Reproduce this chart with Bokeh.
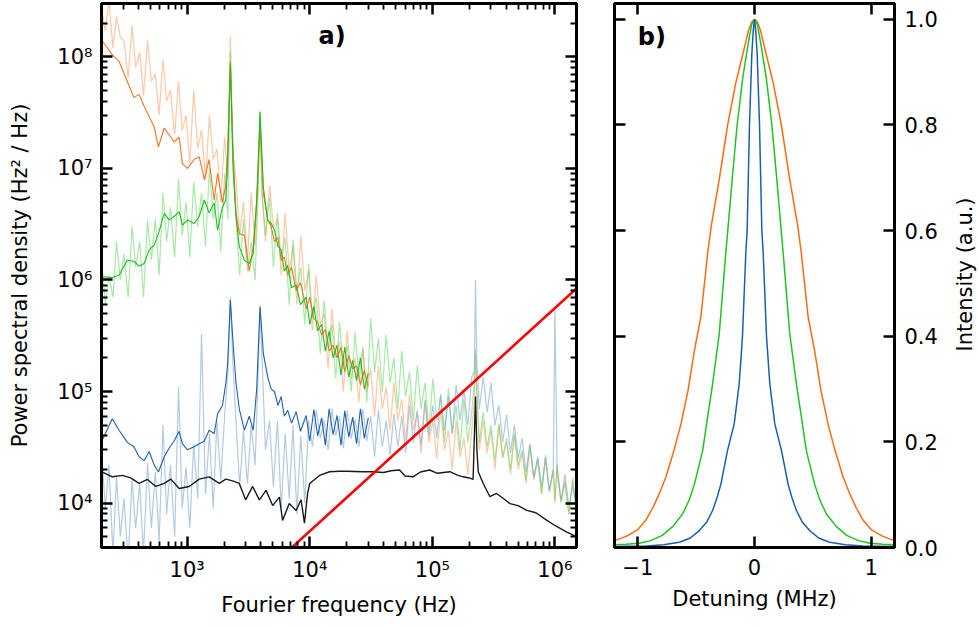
import math
from bokeh.plotting import figure
from bokeh.models import Range1d, FixedTicker, LogAxis, LinearAxis, Label
from bokeh.core.properties import value
from bokeh.layouts import row
from bokeh.embed import file_html
from bokeh.resources import INLINE

# ---------------- panel a data ----------------
freq_light = [
    200, 215, 230, 248, 265, 285, 305, 330, 355, 380,
    410, 440, 475, 510, 550, 590, 635, 680, 730, 790,
    850, 910, 980, 1050, 1130, 1220, 1310, 1410, 1520, 1630,
    1750, 1880, 2020, 2150, 2250, 2350, 2500, 2680, 2880, 3100,
    3330, 3580, 3800, 3930, 4080, 4350, 4700, 5050, 5450, 5850,
    6300, 6800, 7300, 7850, 8450, 9100, 9800, 10500, 11300, 12200,
    13100, 14100, 15200, 16300, 17500, 18800, 20200, 21800, 23400, 25200,
    27100, 29200, 31400, 33800, 36300, 39100, 42000, 45200, 48600, 52300,
    56300, 60500, 65100, 70000, 75300, 81000, 87200, 93800, 101000, 108600,
    116800, 125700, 135200, 145400, 156400, 168300, 181000, 194700, 209500, 220000,
    225000, 230000, 242000, 260000, 280000, 301000, 324000, 349000, 375000, 403000,
    434000, 467000, 502000, 540000, 581000, 625000, 673000, 724000, 779000, 838000,
    901000, 970000, 1000000, 1043000, 1122000, 1207000, 1299000, 1397000, 1500000,
]
psd_orange_light = [
    2.8e8, 1.7e8, 3.2e8, 1.2e8, 2.3e8, 1.5e8, 1.4e8, 6.5e7, 1.9e8, 8e7,
    1.1e8, 4.5e7, 1.4e8, 6e7, 7e7, 3e7, 9.5e7, 4e7, 5e7, 2e7,
    6e7, 2.2e7, 3e7, 1.1e7, 5e7, 1.5e7, 2.2e7, 8e6, 3e7, 1.2e7,
    1.5e7, 5e6, 1.9e7, 8e6, 1.5e8, 1.5e7, 8e6, 2.5e6, 5e6, 1.5e6,
    6e6, 2e6, 7e6, 3e7, 6e6, 2.2e6, 7e6, 3e6, 3.5e6, 1.1e6,
    4e6, 1.2e6, 2e6, 6e5, 2.5e6, 8e5, 1.2e6, 3.5e5, 1.1e6, 4e5,
    5e5, 1.6e5, 5.5e5, 2e5, 2.8e5, 1e5, 3.5e5, 1.3e5, 2e5, 8e4,
    2.4e5, 1e5, 1.6e5, 6e4, 1.7e5, 7e4, 1.1e5, 4.5e4, 1.2e5, 5.5e4,
    8.5e4, 3.5e4, 9.5e4, 4.5e4, 6.5e4, 2.8e4, 8e4, 3.5e4, 5.5e4, 2.5e4,
    7e4, 3e4, 4.5e4, 2e4, 5.5e4, 2.6e4, 3.8e4, 1.8e4, 4.5e4, 8e4,
    2.2e5, 1.2e5, 3e4, 5.5e4, 2.8e4, 4.5e4, 2e4, 5e4, 2.5e4, 3.5e4,
    1.8e4, 4e4, 2e4, 2.8e4, 1.5e4, 3.3e4, 1.6e4, 2.4e4, 1.2e4, 2.6e4,
    1.3e4, 2e4, 1e4, 2.2e4, 1.05e4, 1.6e4, 8e3, 1.7e4, 9e3,
]
psd_green_light = [
    1.6e6, 6e5, 1.1e6, 7e5, 2.2e6, 1e6, 1.7e6, 7e5, 3e6, 1.3e6,
    2.2e6, 7e5, 3.4e6, 1.5e6, 3.5e6, 1.1e6, 6e6, 2.2e6, 4.5e6, 1.6e6,
    8e6, 2.5e6, 5e6, 1.6e6, 7.5e6, 3e6, 6e6, 2e6, 1e7, 3.5e6,
    6e6, 1.8e6, 9e6, 3.5e6, 1.1e8, 1.2e7, 4e6, 1.1e6, 3.5e6, 1.2e6,
    2.2e6, 1e6, 7e6, 3.3e7, 6e6, 2.5e6, 5.5e6, 1.3e6, 4e6, 1.5e6,
    2.4e6, 6e5, 2.3e6, 8e5, 1.3e6, 4e5, 1.4e6, 4.5e5, 7e5, 2.2e5,
    6.5e5, 2.5e5, 4e5, 1.3e5, 4.2e5, 1.6e5, 2.6e5, 1e5, 3.4e5, 1.3e5,
    2.5e5, 8e4, 4.5e5, 1.5e5, 3e5, 1e5, 3.2e5, 1.2e5, 2e5, 7e4,
    2.3e5, 9e4, 1.5e5, 5.5e4, 1.7e5, 7e4, 1.2e5, 4.5e4, 1.3e5, 5.5e4,
    9e4, 3.5e4, 1.05e5, 4.2e4, 7.5e4, 3e4, 8.5e4, 3.5e4, 6.5e4, 1.2e5,
    2.4e5, 1e5, 3.5e4, 6.5e4, 3.2e4, 5e4, 2.4e4, 5.2e4, 2.6e4, 3.8e4,
    2e4, 4.2e4, 2.2e4, 3e4, 1.6e4, 3.3e4, 1.7e4, 2.5e4, 1.2e4, 2.7e4,
    1.3e4, 2e4, 1.05e4, 2.2e4, 1e4, 1.5e4, 8e3, 1.6e4, 8.5e3,
]
psd_blue_light = [
    3e4, 9e3, 2.2e4, 3.5e3, 1.7e4, 5e3, 1.1e4, 3e3, 1.6e4, 6e3,
    1.5e4, 3.5e3, 2.3e4, 6e3, 1.9e4, 4.5e3, 5e4, 8e3, 2.2e4, 5e3,
    1.1e5, 9e3, 2.1e4, 6e3, 3.4e4, 1.1e4, 3.3e5, 1.2e4, 4.2e4, 9e3,
    5.5e4, 1.6e4, 6e4, 1.5e5, 7e5, 2e5, 5.5e4, 1.4e4, 4.5e4, 1.5e4,
    5e4, 2.2e4, 1.5e5, 5.5e5, 2e5, 3e4, 5.5e4, 1.4e4, 5.5e4, 9e3,
    4.2e4, 1.1e4, 5e4, 8e3, 4e4, 1e4, 5.5e4, 3.2e4, 6.8e4, 3.8e4,
    5.5e4, 3e4, 7e4, 4e4, 6e4, 3.1e4, 6.8e4, 3.8e4, 5.6e4, 3.2e4,
    7e4, 3.6e4, 6e4, 2.6e4, 6.8e4, 3.2e4, 5.5e4, 2.7e4, 6.3e4, 3.2e4,
    6e4, 2.8e4, 7.5e4, 3.5e4, 6.8e4, 3.3e4, 8.5e4, 4e4, 7.5e4, 3.8e4,
    9.5e4, 4.5e4, 9e4, 4.2e4, 1.15e5, 5.5e4, 1.05e5, 5e4, 1.35e5, 1.5e5,
    1.0e6, 2e5, 7e4, 1.35e5, 6.5e4, 1.2e5, 5e4, 7.5e4, 3.5e4, 6.2e4,
    2.8e4, 5e4, 2.5e4, 3.8e4, 1.9e4, 3.4e4, 1.7e4, 2.6e4, 1.4e4, 2.5e4,
    1.25e4, 2e4, 5.4e5, 1.8e4, 1.05e4, 1.8e4, 9.5e3, 1.4e4, 9e3,
]

freq_dark = [
    200, 245, 278, 325, 368, 405, 445, 490, 537, 583,
    650, 712, 783, 860, 915, 1006, 1140, 1254, 1380, 1510,
    1660, 1770, 1940, 2070, 2140, 2250, 2380, 2500, 2660, 2930,
    3210, 3460, 3690, 3930, 4180, 4530, 4850, 5150, 5500, 5840,
    6200, 6600, 7100, 7750, 8400, 9350, 10000, 10800, 11600, 12500,
    13400, 14400, 15500, 16700, 18000, 19300, 20800, 22400, 24100, 25900,
    27900, 30000,
]
psd_orange_dark = [
    1.42e8, 1.04e8, 9.1e7, 6.0e7, 4.3e7, 4.6e7, 3.6e7, 2.9e7, 2.36e7, 1.56e7,
    2.3e7, 2.0e7, 1.73e7, 1.9e7, 1.1e7, 1.0e7, 1.2e7, 1.27e7, 7.9e6, 1.2e7,
    5.2e6, 9e6, 4.9e6, 7.3e6, 1.5e7, 9.1e7, 1.2e7, 4.0e6, 2.6e6, 2.5e6,
    1.2e6, 2.0e6, 5e6, 2.5e7, 6e6, 3.5e6, 3.0e6, 2.2e6, 2.4e6, 1.5e6,
    1.6e6, 1.1e6, 1.3e6, 8e5, 9.5e5, 5.5e5, 7e5, 4.5e5, 4.2e5, 3.2e5,
    3.6e5, 2.3e5, 2.6e5, 2e5, 2.5e5, 1.5e5, 2.1e5, 1.6e5, 1.7e5, 1.15e5,
    1.55e5, 1.1e5,
]
psd_green_dark = [
    1.07e6, 1.05e6, 1.1e6, 1.5e6, 1.47e6, 1.33e6, 1.4e6, 1.86e6, 2.05e6, 2.6e6,
    3.95e6, 3.45e6, 3.7e6, 4.1e6, 3.1e6, 3.45e6, 3.2e6, 3.7e6, 5.2e6, 4.0e6,
    4.9e6, 2.8e6, 4.5e6, 5.2e6, 1.2e7, 8.5e7, 9.1e6, 3.7e6, 2.0e6, 1.5e6,
    1.4e6, 1.73e6, 5.2e6, 3.2e7, 6.8e6, 3.45e6, 3.2e6, 2.8e6, 2.0e6, 1.86e6,
    1.2e6, 1.35e6, 8.5e5, 9e5, 6e5, 7e5, 4e5, 5.8e5, 3.5e5, 4e5,
    2.3e5, 3.5e5, 2e5, 2.6e5, 1.4e5, 2.5e5, 1.35e5, 1.9e5, 1.25e5, 2e5,
    1.05e5, 1.45e5,
]
psd_blue_dark = [
    3.55e4, 5.7e4, 4.5e4, 3.5e4, 3.2e4, 2.6e4, 2.4e4, 2.9e4, 2.2e4, 1.9e4,
    2.6e4, 3.1e4, 3.6e4, 4.4e4, 3.4e4, 3.0e4, 3.2e4, 3.4e4, 3.6e4, 4.5e4,
    4.2e4, 6.3e4, 7.5e4, 1.2e5, 1.8e5, 6.6e5, 2.5e5, 1.2e5, 7e4, 4.5e4,
    6e4, 4.5e4, 1.05e5, 5.8e5, 2.2e5, 1.36e5, 1.05e5, 1.0e5, 7.5e4, 9e4,
    6e4, 6.8e4, 5.2e4, 6.6e4, 4.4e4, 6.1e4, 3.6e4, 6.9e4, 4e4, 5.8e4,
    3.3e4, 7e4, 4.1e4, 6.1e4, 3.3e4, 6.7e4, 3.9e4, 5.9e4, 3.4e4, 7e4,
    3.8e4, 5.8e4,
]

freq_black = [
    200, 245, 296, 346, 405, 474, 555, 649, 736, 860,
    1038, 1254, 1513, 1827, 2070, 2350, 2660, 3000, 3420, 3880,
    4400, 4980, 5650, 6000, 6800, 7750, 8500, 9050, 9600, 10000,
    12000, 14500, 17500, 20000, 27000, 32700, 40000, 46000, 54000, 60000,
    69500, 80000, 95000, 110000, 139000, 160000, 178000, 200000, 215000, 225000,
    231000, 237000, 260000, 295000, 334000, 380000, 430000, 500000, 590000, 700000,
    860000, 1000000, 1250000, 1500000,
]
psd_black = [
    1.91e4, 1.72e4, 1.77e4, 1.68e4, 1.5e4, 1.63e4, 1.41e4, 1.5e4, 1.64e4, 1.35e4,
    1.41e4, 1.64e4, 1.72e4, 1.5e4, 1.64e4, 1.58e4, 1.5e4, 1.07e4, 1.41e4, 1.07e4,
    1.3e4, 9.5e3, 1.13e4, 7.0e3, 9.9e3, 8.6e3, 1.07e4, 6.6e3, 1.22e4, 1.5e4,
    1.77e4, 1.91e4, 1.93e4, 1.93e4, 1.91e4, 1.91e4, 1.88e4, 1.95e4, 1.98e4, 1.75e4,
    1.72e4, 1.9e4, 1.98e4, 1.85e4, 1.91e4, 1.78e4, 1.72e4, 1.68e4, 1.63e4, 9e4,
    3e4, 1.91e4, 1.5e4, 1.14e4, 1.22e4, 1.1e4, 9.9e3, 9.5e3, 8.6e3, 8.2e3,
    7.0e3, 6.3e3, 5.5e3, 5.0e3,
]

freq_red = [200, 1.5e6]
psd_red = [1.12e2, 8.4e5]

xticks_a = [1e3, 1e4, 1e5, 1e6]
xtick_labels_a = ["10³", "10⁴", "10⁵", "10⁶"]
yticks_a = [1e4, 1e5, 1e6, 1e7, 1e8]
ytick_labels_a = ["10⁴", "10⁵", "10⁶", "10⁷", "10⁸"]

# ---------------- panel b data ----------------
det_orange = [-1.2, -1.1, -1.0, -0.93, -0.87, -0.82, -0.76, -0.69, -0.63, -0.57,
              -0.515, -0.46, -0.40, -0.37, -0.30, -0.23, -0.16, -0.10, -0.05, -0.025,
              0.0,
              0.025, 0.05, 0.10, 0.16, 0.23, 0.30, 0.37, 0.40, 0.46, 0.515,
              0.57, 0.63, 0.69, 0.76, 0.82, 0.87, 0.93, 1.0, 1.1, 1.2]
int_orange = [0.013, 0.021, 0.034, 0.052, 0.076, 0.10, 0.133, 0.184, 0.234, 0.297,
              0.373, 0.436, 0.56, 0.61, 0.70, 0.80, 0.88, 0.934, 0.98, 0.995,
              1.0,
              0.995, 0.98, 0.934, 0.88, 0.80, 0.70, 0.61, 0.56, 0.436, 0.373,
              0.297, 0.234, 0.184, 0.133, 0.10, 0.076, 0.052, 0.034, 0.021, 0.013]
det_green = [-1.2, -1.1, -0.99, -0.89, -0.79, -0.70, -0.615, -0.56, -0.515, -0.444,
             -0.402, -0.359, -0.302, -0.245, -0.229, -0.19, -0.149, -0.10, -0.057, -0.025,
             0.0,
             0.025, 0.057, 0.10, 0.149, 0.19, 0.229, 0.245, 0.302, 0.359, 0.402,
             0.444, 0.515, 0.56, 0.615, 0.70, 0.79, 0.89, 0.99, 1.1, 1.2]
int_green = [0.005, 0.006, 0.008, 0.013, 0.023, 0.04, 0.064, 0.09, 0.12, 0.184,
             0.247, 0.31, 0.405, 0.56, 0.60, 0.70, 0.80, 0.89, 0.95, 0.99,
             1.0,
             0.99, 0.95, 0.89, 0.80, 0.70, 0.60, 0.56, 0.405, 0.31, 0.247,
             0.184, 0.12, 0.09, 0.064, 0.04, 0.023, 0.013, 0.008, 0.006, 0.005]
det_blue = [-1.2, -1.07, -0.93, -0.78, -0.644, -0.55, -0.473, -0.41, -0.359, -0.32,
            -0.288, -0.231, -0.174, -0.131, -0.103, -0.074, -0.063, -0.043, -0.023, -0.01,
            0.0,
            0.01, 0.023, 0.043, 0.063, 0.074, 0.103, 0.131, 0.174, 0.231, 0.288,
            0.32, 0.359, 0.41, 0.473, 0.55, 0.644, 0.78, 0.93, 1.07, 1.2]
int_blue = [0.002, 0.0025, 0.003, 0.005, 0.01, 0.018, 0.032, 0.048, 0.07, 0.095,
            0.12, 0.184, 0.234, 0.31, 0.40, 0.56, 0.60, 0.80, 0.934, 0.98,
            1.0,
            0.98, 0.934, 0.80, 0.60, 0.56, 0.40, 0.31, 0.234, 0.184, 0.12,
            0.095, 0.07, 0.048, 0.032, 0.018, 0.01, 0.005, 0.003, 0.0025, 0.002]

xticks_b = [-1, 0, 1]
xtick_labels_b = ["−1", "0", "1"]
yticks_b = [0.0, 0.2, 0.4, 0.6, 0.8, 1.0]
ytick_labels_b = ["0.0", "0.2", "0.4", "0.6", "0.8", "1.0"]

FONT = "DejaVu Sans"
ORANGE = "#ff6a10"
GREEN = "#1fc41f"
BLUE = "#1a5fad"
FS = "21px"


def style_axis(ax, labels=True, minor=True):
    ax.axis_line_width = 3
    ax.axis_line_color = "black"
    ax.major_tick_in = 11
    ax.major_tick_out = 0
    ax.major_tick_line_width = 2.5
    ax.major_tick_line_color = "black"
    if minor:
        ax.minor_tick_in = 6
        ax.minor_tick_out = 0
        ax.minor_tick_line_width = 1.8
        ax.minor_tick_line_color = "black"
    else:
        ax.minor_tick_line_color = None
    ax.major_label_text_font = FONT
    if labels:
        ax.major_label_text_font_size = FS
        ax.major_label_text_color = "black"
    else:
        ax.major_label_text_font_size = "1px"
        ax.major_label_text_color = None
        ax.major_label_standoff = 0
    ax.axis_label_text_font = FONT
    ax.axis_label_text_font_size = FS
    ax.axis_label_text_font_style = "normal"
    ax.axis_label_text_color = "black"


def minor_log(lo, hi):
    return [m * 10 ** e for e in range(lo, hi) for m in range(2, 10)]


# ---------------- panel a ----------------
p1 = figure(frame_width=475, frame_height=544,
            x_axis_type="log", y_axis_type="log",
            x_range=Range1d(200, 1.5e6), y_range=Range1d(4e3, 3e8),
            output_backend="svg", toolbar_location=None,
            min_border_left=101, min_border_right=18,
            min_border_top=3, min_border_bottom=70)
p1.grid.visible = False
p1.outline_line_color = "black"
p1.outline_line_width = 3

p1.xaxis.ticker = FixedTicker(ticks=xticks_a, minor_ticks=minor_log(2, 7))
p1.yaxis.ticker = FixedTicker(ticks=yticks_a, minor_ticks=minor_log(3, 9))
style_axis(p1.xaxis[0])
style_axis(p1.yaxis[0])
p1.xaxis.major_label_overrides = dict(zip(xticks_a, xtick_labels_a))
p1.yaxis.major_label_overrides = dict(zip(yticks_a, ytick_labels_a))
p1.xaxis.axis_label = "Fourier frequency (Hz)"
p1.yaxis.axis_label = "Power spectral density (Hz² / Hz)"
p1.xaxis.major_label_standoff = 10
p1.xaxis.axis_label_standoff = 8
p1.yaxis.major_label_standoff = 9
p1.yaxis.axis_label_standoff = 22

top_a = LogAxis(ticker=FixedTicker(ticks=xticks_a, minor_ticks=minor_log(2, 7)))
style_axis(top_a, labels=False)
p1.add_layout(top_a, "above")
right_a = LogAxis(ticker=FixedTicker(ticks=yticks_a, minor_ticks=minor_log(3, 9)))
style_axis(right_a, labels=False)
p1.add_layout(right_a, "right")

p1.line(freq_light, psd_orange_light, line_color="#ff9a5c", line_alpha=0.55, line_width=1.2)
p1.line(freq_light, psd_green_light, line_color="#5fd85f", line_alpha=0.55, line_width=1.2)
p1.line(freq_light, psd_blue_light, line_color="#7ea6d2", line_alpha=0.6, line_width=1.2)
p1.line(freq_dark, psd_orange_dark, line_color="#f47321", line_width=1.1)
p1.line(freq_dark, psd_green_dark, line_color="#1cbf1c", line_width=1.1)
p1.line(freq_dark, psd_blue_dark, line_color="#2060ab", line_width=1.1)
p1.line(freq_black, psd_black, line_color="#1a1a1a", line_width=1.4)
p1.line(freq_red, psd_red, line_color="#ff0000", line_width=2.6)

p1.add_layout(Label(x=1.18e4, y=1.155e8, text="a)", text_font=FONT,
                    text_font_size="24px", text_font_style="bold",
                    text_color="black"))

# ---------------- panel b ----------------
p2 = figure(frame_width=280, frame_height=544,
            x_range=Range1d(-1.2, 1.2), y_range=Range1d(0, 1.03),
            y_axis_location="right",
            output_backend="svg", toolbar_location=None,
            min_border_left=20, min_border_right=48,
            min_border_top=3, min_border_bottom=70)
p2.grid.visible = False
p2.outline_line_color = "black"
p2.outline_line_width = 3

p2.xaxis.ticker = FixedTicker(ticks=xticks_b)
p2.yaxis.ticker = FixedTicker(ticks=yticks_b)
style_axis(p2.xaxis[0], minor=False)
style_axis(p2.yaxis[0], minor=False)
p2.xaxis.major_label_overrides = dict(zip(xticks_b, xtick_labels_b))
p2.yaxis.major_label_overrides = dict(zip(yticks_b, ytick_labels_b))
p2.xaxis.axis_label = "Detuning (MHz)"
p2.xaxis.major_label_standoff = 11
p2.xaxis.axis_label_standoff = 9
p2.yaxis.major_label_standoff = 10

top_b = LinearAxis(ticker=FixedTicker(ticks=xticks_b))
style_axis(top_b, labels=False, minor=False)
p2.add_layout(top_b, "above")
left_b = LinearAxis(ticker=FixedTicker(ticks=yticks_b))
style_axis(left_b, labels=False, minor=False)
p2.add_layout(left_b, "left")

p2.line(det_orange, int_orange, line_color=ORANGE, line_width=1.5)
p2.line(det_green, int_green, line_color=GREEN, line_width=1.5)
p2.line(det_blue, int_blue, line_color=BLUE, line_width=1.5)

p2.add_layout(Label(x=-1.0, y=0.941, text="b)", text_font=FONT,
                    text_font_size="24px", text_font_style="bold",
                    text_color="black"))

# ---------------- right-hand axis title (reads bottom to top) ----------------
p3 = figure(frame_width=37, frame_height=544,
            x_range=Range1d(0, 1), y_range=Range1d(0, 1.03),
            output_backend="svg", toolbar_location=None,
            min_border_left=0, min_border_right=0,
            min_border_top=3, min_border_bottom=70)
p3.axis.visible = False
p3.grid.visible = False
p3.outline_line_color = None
p3.text(x=[0.6], y=[0.517], text=["Intensity (a.u.)"], angle=math.pi / 2,
        text_font=value(FONT), text_font_size=value(FS), text_color="black",
        text_align="center", text_baseline="middle")

layout = row(p1, p2, p3)
open("out.html", "w").write(file_html(layout, INLINE))
